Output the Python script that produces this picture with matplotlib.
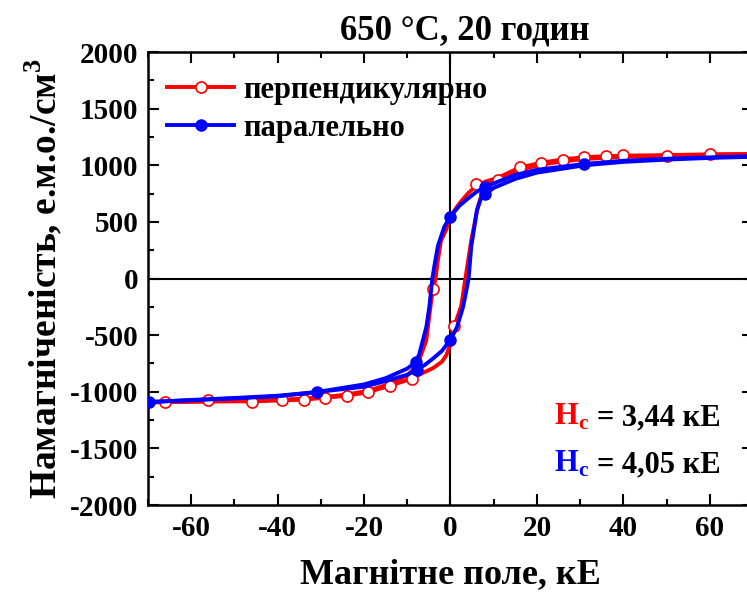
import matplotlib
matplotlib.use("Agg")
import matplotlib.pyplot as plt
from matplotlib.lines import Line2D

# Петля гістерезису, перпендикулярно (червона)
red_desc_x = [70, 60, 50, 40, 36, 31, 26, 21, 16, 11, 8, 6, 4, 2, 0, -0.9, -2.2, -3.0, -3.44,
              -4.1, -4.8, -5.6, -7.2, -8.8, -10, -14, -19, -24, -29, -34, -39, -46, -56, -66, -70]
red_desc_y = [1100, 1097, 1090, 1085, 1080, 1072, 1052, 1022, 980, 890, 855, 820, 750, 660, 550,
              440, 335, 140, 0, -91, -300, -547, -715, -810, -855, -930, -990, -1025, -1045, -1060,
              -1070, -1080, -1087, -1091, -1093]
red_asc_x = [-70, -66, -56, -46, -39, -34, -29, -24, -19, -14, -9, -6.8, -4, -2, -1, 0, 0.9, 2.5,
             3.44, 4.8, 6.3, 7.5, 8.8, 11, 16, 21, 26, 31, 40, 50, 60, 70]
red_asc_y = [-1095, -1091, -1082, -1085, -1076, -1070, -1052, -1035, -1003, -946, -885, -841,
             -790, -735, -680, -580, -420, -240, 0, 335, 629, 780, 830, 870, 960, 1005, 1035,
             1055, 1075, 1085, 1092, 1097]
red_mark_x = [-66, -56, -46, -39, -34, -29, -24, -19, -14, -9, -4.1, 0.9, 5.9, 11, 16, 21, 26,
              31, 36, 40, 50, 60]
red_mark_y = [-1091, -1076, -1091, -1076, -1070, -1052, -1035, -1003, -946, -885, -91, -415,
              835, 870, 982, 1020, 1050, 1076, 1079, 1094, 1085, 1100]

# Петля гістерезису, паралельно (синя)
blue_desc_x = [70, 60, 50, 40, 31, 20, 15, 10, 8, 6, 4, 2, 0, -1.4, -2.9, -3.6, -4.2, -4.9,
               -5.6, -7.2, -8, -10, -15, -20, -31, -40, -50, -60, -70]
blue_desc_y = [1080, 1070, 1058, 1040, 1012, 960, 915, 840, 805, 765, 705, 640, 547, 460, 290,
               140, 0, -253, -430, -664, -738, -795, -880, -935, -1003, -1035, -1055, -1072, -1091]
blue_asc_x = [-70, -60, -50, -40, -31, -20, -15, -10, -8, -6, -4, -2, 0, 1.5, 2.9, 3.6, 4.2,
              4.8, 5.5, 6.1, 7, 8.1, 10, 15, 20, 31, 40, 50, 60, 70]
blue_asc_y = [-1091, -1075, -1058, -1040, -1003, -955, -905, -850, -805, -765, -705, -640, -541,
              -429, -253, -120, 0, 280, 450, 600, 700, 747, 800, 880, 935, 1000, 1030, 1050,
              1065, 1075]
blue_mark_x = [-69.7, -31, -8, -7.8, -0.2, -0.2, 7.9, 8.1, 31]
blue_mark_y = [-1091, -1003, -738, -805, 547, -541, 805, 747, 1012]

labels = ["перпендикулярно", "паралельно"]
hc_values = ["3,44", "4,05"]

plt.rcParams["font.family"] = ["Liberation Serif", "DejaVu Serif"]
plt.rcParams["font.weight"] = "bold"
plt.rcParams["axes.unicode_minus"] = False
plt.rcParams["mathtext.fontset"] = "custom"
plt.rcParams["mathtext.rm"] = "Liberation Serif:bold"
plt.rcParams["mathtext.bf"] = "Liberation Serif:bold"

fig = plt.figure(figsize=(7.47, 6.01), dpi=100)
ax = fig.add_axes([0.1981, 0.1597, 0.8099, 0.7537])

ax.axhline(0, color="black", lw=1.5, zorder=1)
ax.axvline(0, color="black", lw=1.5, zorder=1)

ax.plot(red_desc_x, red_desc_y, color="red", lw=2.8, zorder=2)
ax.plot(red_asc_x, red_asc_y, color="red", lw=2.8, zorder=2)
ax.plot(red_mark_x, red_mark_y, ls="none", marker="o", ms=8, mfc="white", mec="red",
        mew=1.2, zorder=3)
ax.plot(blue_desc_x, blue_desc_y, color="blue", lw=2.8, zorder=4)
ax.plot(blue_asc_x, blue_asc_y, color="blue", lw=2.8, zorder=4)
ax.plot(blue_mark_x, blue_mark_y, ls="none", marker="o", ms=8, color="blue", zorder=5)

ax.set_xlim(-70, 70)
ax.set_ylim(-2000, 2000)
ax.set_xticks([-60, -40, -20, 0, 20, 40, 60])
ax.set_xticks(range(-70, 71, 10), minor=True)
ax.set_yticks(range(-2000, 2001, 500))
ax.set_yticks(range(-2000, 2001, 250), minor=True)
ax.tick_params(which="both", direction="in", top=True, right=True, width=1.5)
ax.tick_params(which="major", length=8, labelsize=21, pad=7)
ax.tick_params(which="minor", length=4)
for s in ax.spines.values():
    s.set_linewidth(1.8)

ax.set_title("650 °C, 20 годин", fontsize=25, fontweight="bold", pad=9, x=0.524)
ax.set_xlabel("Магнітне поле, кЕ", fontsize=26, fontweight="bold", labelpad=12)
ax.set_ylabel("Намагніченість, е.м.о./см$^\\mathbf{3}$", fontsize=27, fontweight="bold",
              labelpad=4)

handles = [
    Line2D([], [], color="red", lw=2.8, marker="o", ms=8, mfc="white", mec="red", mew=1.2),
    Line2D([], [], color="blue", lw=2.8, marker="o", ms=8),
]
fig.legend(handles, labels, loc="upper left", bbox_to_anchor=(167 / 747, 1 - 76 / 601),
           frameon=False, fontsize=22, handlelength=2.2, handletextpad=0.3,
           labelspacing=0.3, borderpad=0, borderaxespad=0)

for i, (val, col) in enumerate(zip(hc_values, ["red", "blue"])):
    yb = 1 - (425 + 47 * i) / 601
    fig.text(554 / 747, yb, "H$_\\mathbf{c}$", color=col, fontsize=22, fontweight="bold",
             va="baseline", ha="left")
    fig.text(597 / 747, yb, "= " + val + " кЕ", color="black", fontsize=22,
             fontweight="bold", va="baseline", ha="left")

fig.savefig("out.png", dpi=100)
